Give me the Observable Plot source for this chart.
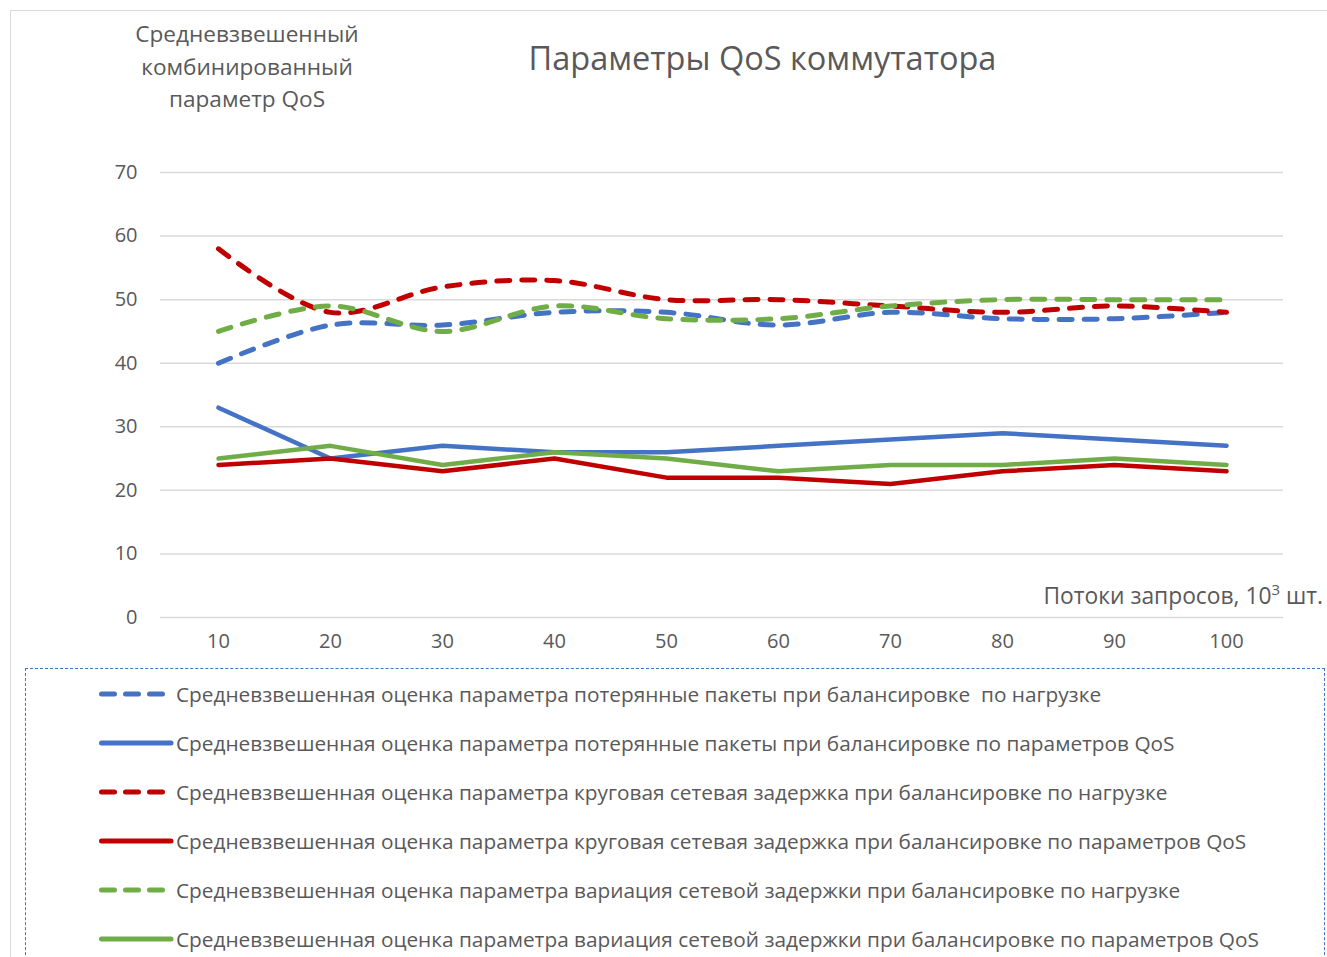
<!DOCTYPE html>
<html>
<head>
<meta charset="utf-8">
<script src="https://cdn.jsdelivr.net/npm/d3@7"></script>
<script src="https://cdn.jsdelivr.net/npm/@observablehq/plot@0.6"></script>
<style>
  html, body { margin: 0; padding: 0; background: #fff; }
  body { width: 1327px; height: 957px; overflow: hidden; position: relative; font-family: "Open Sans", "Noto Sans", sans-serif; color: #595959; }
  #frame { position: absolute; left: 10px; top: 10px; width: 1330px; height: 960px; border-left: 1.5px solid #d9d9d9; border-top: 1.5px solid #d9d9d9; }
  #title { position: absolute; left: 0; width: 1525px; top: 36px; text-align: center; font-size: 32.5px; line-height: 44px; white-space: nowrap; }
  #ytitle { position: absolute; left: 97px; width: 300px; top: 18px; text-align: center; font-size: 22.6px; line-height: 32.5px; white-space: nowrap; }
  #xtitle { position: absolute; right: 4px; top: 580px; font-size: 22.8px; white-space: nowrap; }
  #xtitle sup { font-size: 15px; vertical-align: 0; position: relative; top: -9px; }
  #chart { position: absolute; left: 0; top: 150px; }
  #legend { position: absolute; left: 25px; top: 668px; width: 1298px; height: 320px; border: 1px dashed #4472C4; }
  .row { position: absolute; left: 72px; height: 30px; display: flex; align-items: center; font-size: 20.8px; white-space: pre; }
  .row svg { margin-right: 2px; }
</style>
</head>
<body>
<div id="frame"></div>
<div id="title">Параметры QoS коммутатора</div>
<div id="ytitle">Средневзвешенный<br>комбинированный<br>параметр QoS</div>
<div id="chart"></div>
<div id="xtitle">Потоки запросов, 10<sup>3</sup> шт.</div>
<div id="legend"></div>
<script>
// ---- data ----
const flows = [10, 20, 30, 40, 50, 60, 70, 80, 90, 100];
const seriesNames = [
  "Средневзвешенная оценка параметра потерянные пакеты при балансировке  по нагрузке",
  "Средневзвешенная оценка параметра потерянные пакеты при балансировке по параметров QoS",
  "Средневзвешенная оценка параметра круговая сетевая задержка при балансировке по нагрузке",
  "Средневзвешенная оценка параметра круговая сетевая задержка при балансировке по параметров QoS",
  "Средневзвешенная оценка параметра вариация сетевой задержки при балансировке по нагрузке",
  "Средневзвешенная оценка параметра вариация сетевой задержки при балансировке по параметров QoS"
];
const lossLoad   = [40, 46, 46, 48, 48, 46, 48, 47, 47, 48];
const lossQos    = [33, 25, 27, 26, 26, 27, 28, 29, 28, 27];
const rttLoad    = [58, 48, 52, 53, 50, 50, 49, 48, 49, 48];
const rttQos     = [24, 25, 23, 25, 22, 22, 21, 23, 24, 23];
const jitterLoad = [45, 49, 45, 49, 47, 47, 49, 50, 50, 50];
const jitterQos  = [25, 27, 24, 26, 25, 23, 24, 24, 25, 24];
const yTicks = [0, 10, 20, 30, 40, 50, 60, 70];

const seriesValues = [lossLoad, lossQos, rttLoad, rttQos, jitterLoad, jitterQos];
const seriesColors = ["#4472C4", "#4472C4", "#C00000", "#C00000", "#70AD47", "#70AD47"];
const seriesDashed = [true, false, true, false, true, false];

const rows = [];
seriesNames.forEach((name, i) => {
  flows.forEach((f, j) => rows.push({series: name, flow: f, value: seriesValues[i][j], dashed: seriesDashed[i]}));
});

const chart = Plot.plot({
  width: 1320,
  height: 510,
  marginTop: 22,
  marginBottom: 43,
  marginLeft: 160,
  marginRight: 37,
  style: {fontFamily: "'Open Sans', 'Noto Sans', sans-serif", fontSize: "20px", color: "#595959", background: "transparent"},
  x: {type: "point", domain: flows, padding: 0.5, label: null, tickSize: 0, tickPadding: 16},
  y: {domain: [0, 70], ticks: yTicks, label: null, tickSize: 0, tickPadding: 23},
  color: {domain: seriesNames, range: seriesColors},
  marks: [
    Plot.gridY(yTicks, {stroke: "#d9d9d9", strokeOpacity: 1, strokeWidth: 1.5}),
    Plot.axisX({tickSize: 0, tickPadding: 16, fontSize: 20, fill: "#595959"}),
    Plot.axisY({ticks: yTicks, tickSize: 0, tickPadding: 23, fontSize: 20, fill: "#595959"}),
    Plot.line(rows.filter(d => !d.dashed), {x: "flow", y: "value", z: "series", stroke: "series", strokeWidth: 4.5, strokeLinejoin: "round", strokeLinecap: "round"}),
    Plot.line(rows.filter(d => d.dashed), {x: "flow", y: "value", z: "series", stroke: "series", strokeWidth: 5, strokeDasharray: "13,12", strokeLinecap: "round", curve: "catmull-rom"})
  ]
});
document.getElementById("chart").appendChild(chart);

// ---- legend ----
const legend = document.getElementById("legend");
seriesNames.forEach((name, i) => {
  const row = document.createElement("div");
  row.className = "row";
  row.style.top = (10 + i * 49) + "px";
  const dash = seriesDashed[i] ? `stroke-dasharray="13,11"` : "";
  row.innerHTML = `<svg width="76" height="10"><line x1="3.5" y1="5" x2="${seriesDashed[i] ? 64.5 : 73}" y2="5" stroke="${seriesColors[i]}" stroke-width="5" stroke-linecap="round" ${dash}/></svg><span></span>`;
  row.querySelector("span").textContent = name;
  legend.appendChild(row);
});
</script>
</body>
</html>
